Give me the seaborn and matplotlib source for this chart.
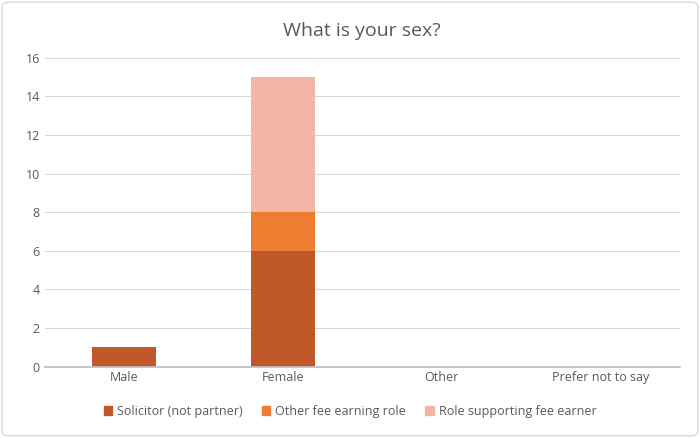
import matplotlib
matplotlib.use("Agg")
import matplotlib.pyplot as plt
import seaborn as sns
import numpy as np
import pandas as pd
from matplotlib.patches import Patch

categories = ["Male", "Female", "Other", "Prefer not to say"]
solicitor = [1, 6, 0, 0]
other_fee = [0, 2, 0, 0]
role_support = [0, 7, 0, 0]
series_names = ["Solicitor (not partner)", "Other fee earning role", "Role supporting fee earner"]
colors = ["#C0582A", "#ED7D31", "#F2B5A6"]

sns.set_theme(style="white")
plt.rcParams['font.family'] = ['Open Sans', 'DejaVu Sans']

fig = plt.figure(figsize=(7, 4.38), dpi=100)
ax = fig.add_axes([0.064, 0.163, 0.907, 0.705])

bottom = np.zeros(len(categories))
for name, vals, c in zip(series_names, [solicitor, other_fee, role_support], colors):
    df = pd.DataFrame({"cat": categories, "val": vals})
    sns.barplot(data=df, x="cat", y="val", color=c, bottom=bottom, width=0.4,
                ax=ax, saturation=1, order=categories, edgecolor="none")
    bottom = bottom + np.array(vals)

ax.set_ylim(0, 16)
ax.set_yticks(range(0, 17, 2))
ax.yaxis.grid(True, color="#D9D9D9", linewidth=0.8)
ax.set_axisbelow(True)
for s in ["top", "right", "left"]:
    ax.spines[s].set_visible(False)
ax.spines["bottom"].set_color("#BFBFBF")
ax.set_xlabel("")
ax.set_ylabel("")
ax.tick_params(axis="both", colors="#595959", labelsize=9, length=0)
ax.set_title("What is your sex?", fontsize=14, color="#595959", pad=16)

handles = [Patch(color=c, label=n) for n, c in zip(series_names, colors)]
fig.legend(handles=handles, loc="lower center", ncol=3, frameon=False,
           fontsize=9, bbox_to_anchor=(0.5, 0.02), handlelength=0.7, handleheight=0.7,
           labelcolor="#595959", columnspacing=1.5, handletextpad=0.4)

fig.patches.append(matplotlib.patches.FancyBboxPatch((0.003, 0.005), 0.994, 0.99,
    boxstyle="round,pad=0,rounding_size=0.01", transform=fig.transFigure,
    fill=False, edgecolor="#D9D9D9", linewidth=1))
fig.savefig("out.png", dpi=100, facecolor="white")
